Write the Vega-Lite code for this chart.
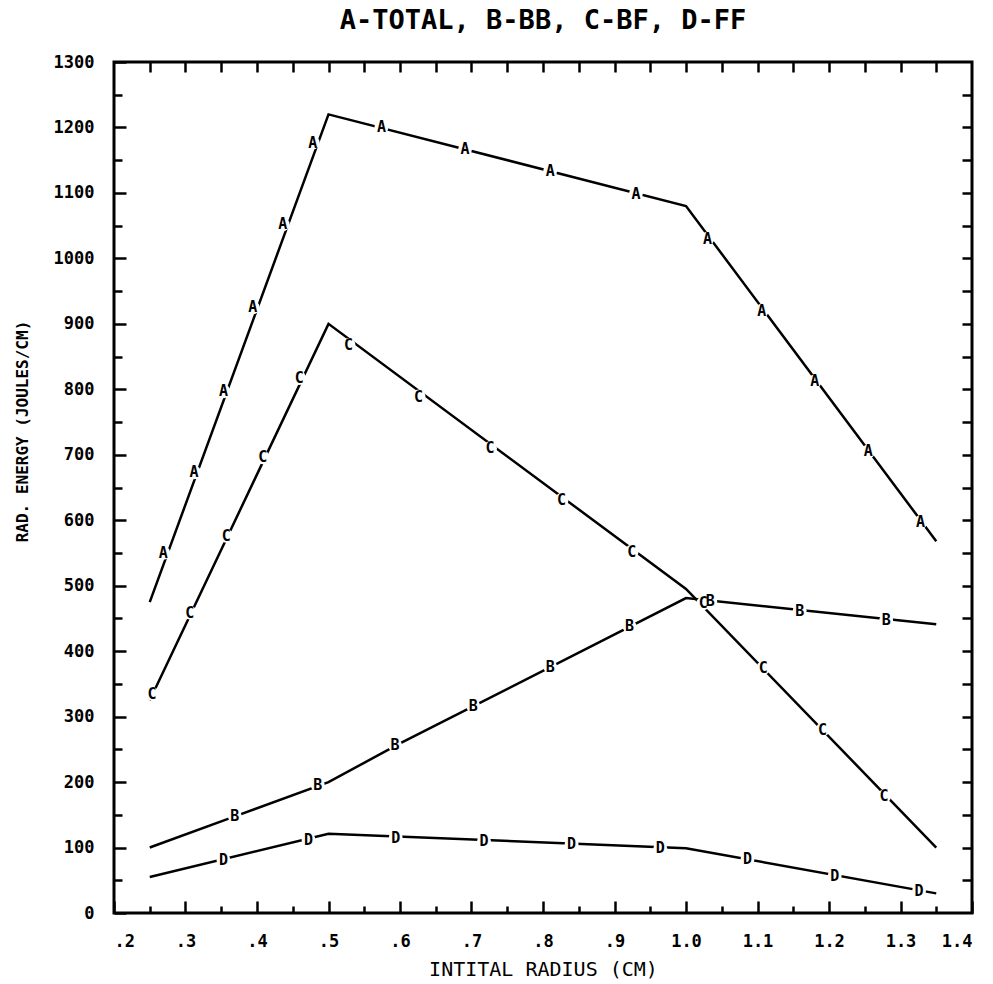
{
  "$schema": "https://vega.github.io/schema/vega-lite/v6.json",
  "autosize": {"type": "none"},
  "padding": {"left": 114, "top": 62, "right": 21, "bottom": 71},
  "width": 858,
  "height": 851,
  "background": "white",
  "title": {
    "text": "A-TOTAL, B-BB, C-BF, D-FF",
    "font": "DejaVu Sans Mono",
    "fontSize": 27,
    "fontWeight": "bold",
    "color": "black",
    "anchor": "middle",
    "offset": 18
  },
  "config": {
    "view": {"stroke": "black", "strokeWidth": 3},
    "axis": {
      "grid": false,
      "domain": false,
      "tickColor": "black",
      "tickWidth": 2.5,
      "labelColor": "black",
      "titleColor": "black",
      "labelFont": "DejaVu Sans Mono",
      "labelFontWeight": "bold",
      "labelFontSize": 17,
      "titleFont": "DejaVu Sans Mono",
      "titleFontWeight": "normal"
    }
  },
  "datasets": {
    "lines": [
      {"series": "A", "x": 0.25, "y": 475},
      {"series": "A", "x": 0.5, "y": 1220},
      {"series": "A", "x": 1.0, "y": 1080},
      {"series": "A", "x": 1.35, "y": 568},
      {"series": "B", "x": 0.25, "y": 100},
      {"series": "B", "x": 0.37, "y": 148},
      {"series": "B", "x": 0.5, "y": 200},
      {"series": "B", "x": 0.6, "y": 259},
      {"series": "B", "x": 1.0, "y": 481},
      {"series": "B", "x": 1.35, "y": 441},
      {"series": "C", "x": 0.25, "y": 325},
      {"series": "C", "x": 0.5, "y": 900},
      {"series": "C", "x": 1.0, "y": 495},
      {"series": "C", "x": 1.35, "y": 100},
      {"series": "D", "x": 0.25, "y": 55},
      {"series": "D", "x": 0.5, "y": 121},
      {"series": "D", "x": 1.0, "y": 99},
      {"series": "D", "x": 1.35, "y": 30}
    ],
    "markers": [
      {"series": "A", "x": 0.269, "y": 550},
      {"series": "A", "x": 0.312, "y": 673},
      {"series": "A", "x": 0.353, "y": 797},
      {"series": "A", "x": 0.394, "y": 925},
      {"series": "A", "x": 0.436, "y": 1052},
      {"series": "A", "x": 0.478, "y": 1177},
      {"series": "A", "x": 0.574, "y": 1200},
      {"series": "A", "x": 0.691, "y": 1167},
      {"series": "A", "x": 0.81, "y": 1133},
      {"series": "A", "x": 0.93, "y": 1099},
      {"series": "A", "x": 1.03, "y": 1030},
      {"series": "A", "x": 1.106, "y": 920},
      {"series": "A", "x": 1.18, "y": 812},
      {"series": "A", "x": 1.255, "y": 705},
      {"series": "A", "x": 1.328, "y": 597},
      {"series": "B", "x": 0.369, "y": 148},
      {"series": "B", "x": 0.485, "y": 195},
      {"series": "B", "x": 0.593, "y": 256},
      {"series": "B", "x": 0.7025, "y": 316},
      {"series": "B", "x": 0.81, "y": 376},
      {"series": "B", "x": 0.921, "y": 438},
      {"series": "B", "x": 1.034, "y": 476},
      {"series": "B", "x": 1.159, "y": 462},
      {"series": "B", "x": 1.28, "y": 447},
      {"series": "C", "x": 0.253, "y": 335},
      {"series": "C", "x": 0.306, "y": 459},
      {"series": "C", "x": 0.357, "y": 576},
      {"series": "C", "x": 0.408, "y": 696},
      {"series": "C", "x": 0.459, "y": 817},
      {"series": "C", "x": 0.528, "y": 868},
      {"series": "C", "x": 0.626, "y": 789},
      {"series": "C", "x": 0.726, "y": 710},
      {"series": "C", "x": 0.826, "y": 631},
      {"series": "C", "x": 0.924, "y": 552},
      {"series": "C", "x": 1.024, "y": 473},
      {"series": "C", "x": 1.108, "y": 374},
      {"series": "C", "x": 1.191, "y": 280},
      {"series": "C", "x": 1.277, "y": 178},
      {"series": "D", "x": 0.353, "y": 81},
      {"series": "D", "x": 0.472, "y": 112},
      {"series": "D", "x": 0.594, "y": 115},
      {"series": "D", "x": 0.7175, "y": 110},
      {"series": "D", "x": 0.84, "y": 105},
      {"series": "D", "x": 0.964, "y": 99},
      {"series": "D", "x": 1.086, "y": 82},
      {"series": "D", "x": 1.208, "y": 57},
      {"series": "D", "x": 1.326, "y": 34}
    ]
  },
  "resolve": {"axis": {"x": "independent", "y": "independent"}},
  "layer": [
    {
      "data": {"name": "lines"},
      "mark": {"type": "line", "color": "black", "strokeWidth": 2.5, "clip": true},
      "encoding": {
        "x": {
          "field": "x", "type": "quantitative",
          "scale": {"domain": [0.2, 1.4], "nice": false, "zero": false},
          "axis": {
            "orient": "bottom",
            "values": [0.2, 0.3, 0.4, 0.5, 0.6, 0.7, 0.8, 0.9, 1.0, 1.1, 1.2, 1.3, 1.4],
            "tickSize": -12,
            "labelPadding": 32,
            "labelExpr": "datum.value < 0.95 ? '.' + format(datum.value * 10, '.0f') : format(datum.value, '.1f')",
            "title": "INTITAL RADIUS (CM)",
            "titleFontSize": 20,
            "titleBaseline": "top",
            "titleY": 46
          }
        },
        "y": {
          "field": "y", "type": "quantitative",
          "scale": {"domain": [0, 1300], "nice": false, "zero": true},
          "axis": {
            "orient": "left",
            "values": [0, 100, 200, 300, 400, 500, 600, 700, 800, 900, 1000, 1100, 1200, 1300],
            "format": "d",
            "tickSize": -12,
            "labelPadding": 32,
            "title": "RAD. ENERGY (JOULES/CM)",
            "titleFontSize": 16,
            "titleFontWeight": "bold",
            "titleX": -92,
            "titleY": 369,
            "titleBaseline": "middle"
          }
        },
        "detail": {"field": "series"}
      }
    },
    {
      "data": {"name": "markers"},
      "mark": {"type": "point", "shape": "circle", "filled": true, "color": "white", "opacity": 1, "size": 190},
      "encoding": {
        "x": {
          "field": "x", "type": "quantitative",
          "axis": {
            "orient": "bottom",
            "values": [0.25, 0.35, 0.45, 0.55, 0.65, 0.75, 0.85, 0.95, 1.05, 1.15, 1.25, 1.35],
            "tickSize": -7,
            "labels": false,
            "title": null
          }
        },
        "y": {
          "field": "y", "type": "quantitative",
          "axis": {
            "orient": "left",
            "values": [50, 150, 250, 350, 450, 550, 650, 750, 850, 950, 1050, 1150, 1250],
            "tickSize": -8,
            "labels": false,
            "title": null
          }
        }
      }
    },
    {
      "data": {"name": "markers"},
      "mark": {"type": "text", "font": "DejaVu Sans Mono", "fontWeight": "bold", "fontSize": 15, "color": "black", "baseline": "middle", "align": "center"},
      "encoding": {
        "x": {
          "field": "x", "type": "quantitative",
          "axis": {
            "orient": "top",
            "values": [0.25, 0.3, 0.35, 0.4, 0.45, 0.5, 0.55, 0.6, 0.65, 0.7, 0.75, 0.8, 0.85, 0.9, 0.95, 1.0, 1.05, 1.1, 1.15, 1.2, 1.25, 1.3, 1.35],
            "tickSize": -10,
            "labels": false,
            "title": null
          }
        },
        "y": {
          "field": "y", "type": "quantitative",
          "axis": {
            "orient": "right",
            "values": [50, 100, 150, 200, 250, 300, 350, 400, 450, 500, 550, 600, 650, 700, 750, 800, 850, 900, 950, 1000, 1050, 1100, 1150, 1200, 1250],
            "tickSize": -10,
            "labels": false,
            "title": null
          }
        },
        "text": {"field": "series"}
      }
    }
  ]
}
